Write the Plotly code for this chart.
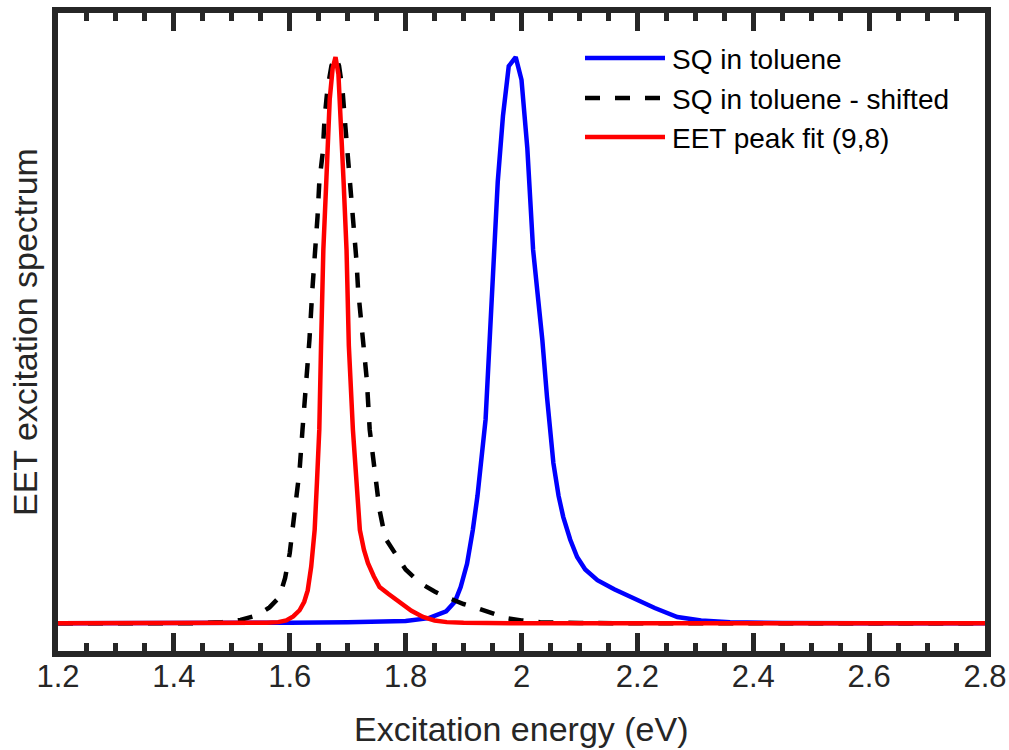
import plotly.graph_objects as go

# SQ in toluene (measured absorption, normalised)
sq_energy = [1.20, 1.40, 1.60, 1.70, 1.76, 1.80, 1.84, 1.87, 1.885, 1.895, 1.906, 1.916,
             1.924, 1.932, 1.938, 1.944, 1.951, 1.959, 1.968, 1.978, 1.990, 2.000, 2.010,
             2.020, 2.028, 2.036, 2.044, 2.055, 2.064, 2.072, 2.084, 2.096, 2.110, 2.131,
             2.160, 2.188, 2.230, 2.269, 2.310, 2.360, 2.450, 2.600, 2.800]
sq_signal = [0.0, 0.0, 0.001, 0.002, 0.003, 0.004, 0.009, 0.021, 0.038, 0.064, 0.105, 0.165,
             0.225, 0.295, 0.36, 0.48, 0.64, 0.78, 0.896, 0.984, 1.0, 0.96, 0.84,
             0.66, 0.58, 0.50, 0.40, 0.283, 0.225, 0.188, 0.148, 0.117, 0.095, 0.076,
             0.060, 0.046, 0.027, 0.011, 0.005, 0.002, 0.0005, 0.0, 0.0]

# SQ in toluene, shifted to the EET peak position
shifted_energy = [1.20, 1.40, 1.444, 1.484, 1.515, 1.543, 1.565, 1.582, 1.592, 1.600, 1.608,
                  1.617, 1.622, 1.629, 1.634, 1.639, 1.643, 1.648, 1.651, 1.657, 1.660, 1.665,
                  1.672, 1.679, 1.685, 1.691, 1.695, 1.700, 1.705, 1.709, 1.715, 1.718, 1.726,
                  1.733, 1.738, 1.747, 1.755, 1.765, 1.786, 1.800, 1.825, 1.850, 1.871, 1.900,
                  1.923, 1.950, 1.975, 2.000, 2.032, 2.100, 2.200, 2.800]
shifted_signal = [0.0, 0.0, 0.0, 0.002, 0.006, 0.014, 0.028, 0.046, 0.080, 0.124, 0.200,
                  0.271, 0.342, 0.430, 0.501, 0.589, 0.642, 0.719, 0.779, 0.832, 0.890, 0.943,
                  0.985, 1.0, 0.985, 0.943, 0.890, 0.832, 0.779, 0.719, 0.642, 0.589, 0.496,
                  0.430, 0.342, 0.271, 0.200, 0.150, 0.117, 0.095, 0.071, 0.056, 0.046, 0.034,
                  0.027, 0.017, 0.009, 0.005, 0.002, 0.0005, 0.0, 0.0]

# EET peak fit for the (9,8) nanotube
fit_energy = [1.20, 1.45, 1.52, 1.56, 1.58, 1.594, 1.606, 1.617, 1.625, 1.631, 1.637, 1.643,
              1.647, 1.651, 1.654, 1.658, 1.663, 1.669, 1.674, 1.679, 1.684, 1.688, 1.693,
              1.698, 1.702, 1.709, 1.715, 1.721, 1.728, 1.735, 1.745, 1.755, 1.770, 1.790,
              1.810, 1.830, 1.850, 1.871, 1.900, 2.000, 2.400, 2.800]
fit_signal = [0.0, 0.0, 0.0005, 0.001, 0.002, 0.005, 0.012, 0.023, 0.038, 0.058, 0.10, 0.165,
              0.25, 0.342, 0.49, 0.66, 0.779, 0.926, 0.98, 1.0, 0.97, 0.90, 0.779,
              0.66, 0.49, 0.342, 0.245, 0.165, 0.13, 0.106, 0.083, 0.064, 0.052, 0.038,
              0.022, 0.011, 0.005, 0.002, 0.001, 0.0, 0.0, 0.0]

tick_values = [1.2, 1.4, 1.6, 1.8, 2.0, 2.2, 2.4, 2.6, 2.8]
tick_labels = ["1.2", "1.4", "1.6", "1.8", "2", "2.2", "2.4", "2.6", "2.8"]

series_names = ["SQ in toluene", "SQ in toluene - shifted", "EET peak fit (9,8)"]
series_colors = ["#0000FF", "#000000", "#FF0000"]
series_dash = ["solid", "15px,15px", "solid"]

x_title = "Excitation energy (eV)"
y_title = "EET excitation spectrum"

FONT = "Liberation Sans, Arial, Helvetica, sans-serif"
AXIS_COLOR = "#262626"
W, H = 1009, 750
M_L, M_R, M_T, M_B = 58, 24, 13, 99

fig = go.Figure()
for xs, ys, name, color, dash in zip(
        [sq_energy, shifted_energy, fit_energy],
        [sq_signal, shifted_signal, fit_signal],
        series_names, series_colors, series_dash):
    fig.add_trace(go.Scatter(x=xs, y=ys, mode="lines", name=name,
                             line=dict(color=color, width=4.5, dash=dash)))

plot_w = W - M_L - M_R
plot_h = H - M_T - M_B


def px_x(px):
    """Pixel column -> paper x."""
    return (px - M_L) / plot_w


def px_y(py):
    """Pixel row -> paper y."""
    return (H - M_B - py) / plot_h


# Legend: long line samples with labels in the top-right corner
legend_rows = [58, 98, 137]
shapes, annotations = [], []
for row, name, color, dash in zip(legend_rows, series_names, series_colors, series_dash):
    shapes.append(dict(type="line", xref="paper", yref="paper",
                       x0=px_x(585), x1=px_x(665), y0=px_y(row), y1=px_y(row),
                       line=dict(color=color, width=4.5, dash=dash)))
    annotations.append(dict(text=name, xref="paper", yref="paper",
                            x=px_x(670), y=px_y(row + 1), xanchor="left", yanchor="middle",
                            showarrow=False, font=dict(family=FONT, size=28, color="#000000")))

# Axis titles
annotations.append(dict(text=x_title, xref="paper", yref="paper",
                        x=0.5, y=px_y(729), xanchor="center", yanchor="middle",
                        showarrow=False, font=dict(family=FONT, size=34, color=AXIS_COLOR)))
annotations.append(dict(text=y_title, xref="paper", yref="paper", textangle=-90,
                        x=px_x(25), y=0.5, xanchor="center", yanchor="middle",
                        showarrow=False, font=dict(family=FONT, size=34, color=AXIS_COLOR)))

fig.update_layout(
    width=W, height=H,
    margin=dict(l=M_L, r=M_R, t=M_T, b=M_B),
    paper_bgcolor="white", plot_bgcolor="white",
    showlegend=False,
    shapes=shapes, annotations=annotations,
    font=dict(family=FONT, color=AXIS_COLOR),
    xaxis=dict(
        range=[1.2, 2.8], tickmode="array", tickvals=tick_values, ticktext=tick_labels,
        ticks="inside", ticklen=18, tickwidth=5, tickcolor=AXIS_COLOR,
        minor=dict(dtick=0.05, tick0=1.2, ticks="inside", ticklen=8, tickwidth=5,
                   tickcolor=AXIS_COLOR),
        showline=True, linewidth=6, linecolor=AXIS_COLOR, mirror="ticks",
        showgrid=False, zeroline=False, automargin=False,
        ticklabelstandoff=-7,
        tickfont=dict(family=FONT, size=31, color=AXIS_COLOR),
    ),
    yaxis=dict(
        range=[-0.049, 1.078], showticklabels=False, ticks="",
        showline=True, linewidth=6, linecolor=AXIS_COLOR, mirror=True,
        showgrid=False, zeroline=False, automargin=False,
    ),
)

fig.write_html("out.html")
